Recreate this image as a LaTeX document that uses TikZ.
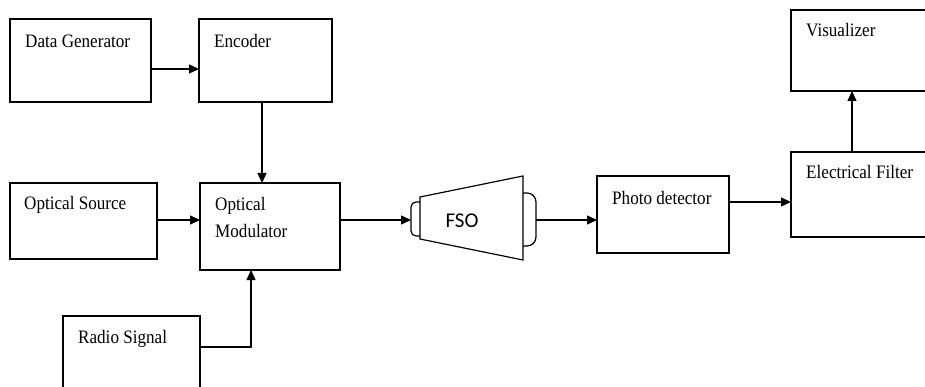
\documentclass[tikz,border=0pt]{standalone}
\usepackage{fontspec}
\setmainfont{Liberation Serif}[FakeStretch=0.9]
\newfontfamily\fsofont{Carlito}
\usetikzlibrary{arrows.meta}

\begin{document}
\begin{tikzpicture}[x=1pt,y=-1pt,
  box/.style={draw, line width=1.2pt, rectangle, inner sep=0pt, outer sep=0pt},
  lbl/.style={anchor=base west, inner sep=0pt, font=\fontsize{19}{23}\selectfont},
  arr/.style={line width=1.3pt, -{Triangle[length=10pt,width=9pt]}},
  link/.style={line width=1.3pt}]
\useasboundingbox (0,0) rectangle (925,387);
\clip (0,0) rectangle (925,387);

% blocks
\node[box, minimum width=141, minimum height=83] (dg)  at (80.5,60.5) {};
\node[box, minimum width=133, minimum height=83] (enc) at (265.5,60.5) {};
\node[box, minimum width=147, minimum height=76] (os)  at (83.5,221) {};
\node[box, minimum width=140, minimum height=87] (om)  at (270,226.5) {};
\node[box, minimum width=137, minimum height=104] (rs) at (131.5,368) {};
\node[box, minimum width=132, minimum height=77] (pd)  at (663,214.5) {};
\node[box, minimum width=159, minimum height=85] (ef)  at (870.5,194.5) {};
\node[box, minimum width=159, minimum height=81] (vis) at (870.5,50.5) {};

% block labels
\node[lbl] (tdg)  at (25,48)  {Data Generator};
\node[lbl] (tenc) at (214,48) {Encoder};
\node[lbl] (tos)  at (24,210) {Optical Source};
\node[lbl] (tom1) at (215,211) {Optical};
\node[lbl] (tom2) at (215,237) {Modulator};
\node[lbl] (trs)  at (78,343) {Radio Signal};
\node[lbl] (tpd)  at (612,205) {Photo detector};
\node[lbl] (tef)  at (806,179) {Electrical Filter};
\node[lbl] (tvis) at (806,37)  {Visualizer};

% FSO link: tapered body with a lens cap on each side
\draw[line width=1.2pt, fill=white] (420,197) -- (523,176) -- (523,260) -- (420,239) -- cycle;
\draw[line width=1.2pt, rounded corners=5pt] (420,202) -- (411,202) -- (411,236) -- (420,236);
\draw[line width=1.2pt, rounded corners=9pt] (523,193) -- (536,193) -- (536,246) -- (523,246);
\node[inner sep=0pt, font=\fsofont\fontsize{21}{25}\selectfont] (fso) at (462,221) {FSO};
\coordinate (fsoin)  at (411,220);
\coordinate (fsoout) at (536,220);

% connectors
\draw[arr] (dg.east |- 0,69) -- (enc.west |- 0,69);
\draw[arr] (enc.south -| 262,0) -- (om.north -| 262,0);
\draw[arr] (os.east |- 0,220) -- (om.west |- 0,220);
\draw[arr] (rs.east |- 0,347) -| (om.south -| 251,0);
\draw[arr] (om.east |- 0,220) -- (fsoin);
\draw[arr] (fsoout) -- (pd.west |- 0,220);
\draw[arr] (pd.east |- 0,202) -- (ef.west |- 0,202);
\draw[arr] (ef.north -| 852,0) -- (vis.south -| 852,0);
\end{tikzpicture}
\end{document}
